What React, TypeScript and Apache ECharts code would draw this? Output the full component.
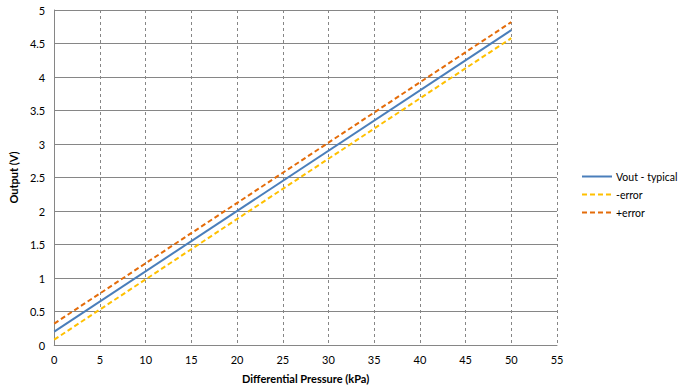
import React, { useEffect, useRef } from "react";
import * as echarts from "echarts";

const pressure = [0, 50];
const voutTypical = [0.2, 4.7];
const minusError = [0.08, 4.58];
const plusError = [0.32, 4.82];

const FONT = "Lato, 'Open Sans', sans-serif";

const SOLID_ICON = "path://M0,0H30V2H0Z";
const DASH_ICON =
  "path://M0,0H5V2H0Z M8,0H13V2H8Z M16,0H21V2H16Z M24,0H29V2H24Z M30,0H30.01V2H30Z";

export default function App() {
  const ref = useRef<HTMLDivElement>(null);
  useEffect(() => {
    document.body.style.margin = "0";
    const chart = echarts.init(ref.current!, null, { renderer: "svg" });
    const mk = (vals: number[]) => pressure.map((p, i) => [p, vals[i]]);
    chart.setOption({
      animation: false,
      backgroundColor: "#ffffff",
      textStyle: { fontFamily: FONT },
      grid: { left: 51, top: 10, width: 506, height: 335, containLabel: false },
      legend: {
        orient: "vertical",
        left: 582,
        top: 171,
        padding: 0,
        itemWidth: 30,
        itemHeight: 2,
        itemGap: 7,
        textStyle: { fontSize: 10.5, color: "#000", fontFamily: FONT, padding: [0, 0, 0, -1] },
        data: [
          { name: "Vout - typical", icon: SOLID_ICON },
          { name: "-error", icon: DASH_ICON },
          { name: "+error", icon: DASH_ICON },
        ],
      },
      xAxis: {
        type: "value",
        min: 0,
        max: 55,
        interval: 5,
        name: "Differential Pressure (kPa)",
        nameLocation: "middle",
        nameGap: 28,
        nameTextStyle: { fontWeight: "bold", fontSize: 11, color: "#000", fontFamily: FONT },
        axisLine: { lineStyle: { color: "#868686", width: 1 } },
        axisTick: { show: false },
        axisLabel: { fontSize: 11, color: "#000", margin: 9, fontFamily: FONT },
        splitLine: { show: true, lineStyle: { color: "#868686", type: [3, 3], width: 1 } },
      },
      yAxis: {
        type: "value",
        min: 0,
        max: 5,
        interval: 0.5,
        name: "Output (V)",
        nameLocation: "middle",
        nameGap: 30,
        nameTextStyle: { fontWeight: "bold", fontSize: 11, color: "#000", fontFamily: FONT },
        axisLine: { show: true, lineStyle: { color: "#868686", width: 1 } },
        axisTick: { show: false },
        axisLabel: { fontSize: 11, color: "#000", margin: 9, fontFamily: FONT },
        splitLine: { show: true, lineStyle: { color: "#868686", type: "solid", width: 1 } },
      },
      series: [
        {
          name: "Vout - typical",
          type: "line",
          data: mk(voutTypical),
          symbol: "none",
          color: "#4A7EBB",
          lineStyle: { color: "#4A7EBB", width: 2 },
        },
        {
          name: "-error",
          type: "line",
          data: mk(minusError),
          symbol: "none",
          color: "#FFC000",
          lineStyle: { color: "#FFC000", width: 2, type: [5, 3] },
        },
        {
          name: "+error",
          type: "line",
          data: mk(plusError),
          symbol: "none",
          color: "#E46C0A",
          lineStyle: { color: "#E46C0A", width: 2, type: [5, 3] },
        },
      ],
    });
    return () => chart.dispose();
  }, []);
  return <div ref={ref} style={{ width: 681, height: 389 }} />;
}
